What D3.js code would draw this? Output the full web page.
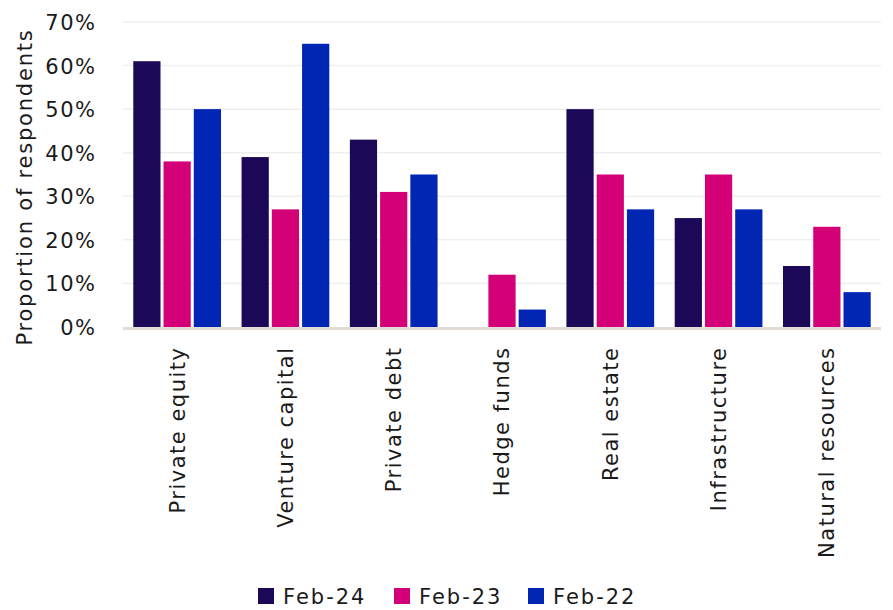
<!DOCTYPE html>
<html>
<head>
<meta charset="utf-8">
<script src="https://cdn.jsdelivr.net/npm/d3@7"></script>
<style>
  body { margin: 0; background: #fff; }
  svg text { font-family: "DejaVu Sans", sans-serif; fill: #1a1a1a; }
</style>
</head>
<body>
<script>
const categories = ["Private equity", "Venture capital", "Private debt", "Hedge funds", "Real estate", "Infrastructure", "Natural resources"];
const seriesNames = ["Feb-24", "Feb-23", "Feb-22"];
const feb24 = [0.61, 0.39, 0.43, 0, 0.50, 0.25, 0.14];
const feb23 = [0.38, 0.27, 0.31, 0.12, 0.35, 0.35, 0.23];
const feb22 = [0.50, 0.65, 0.35, 0.04, 0.27, 0.27, 0.08];
const yTicks = [0, 0.1, 0.2, 0.3, 0.4, 0.5, 0.6, 0.7];
const colors = ["#1b0958", "#d30078", "#0026b3"];

const w = 893, h = 610;
const plotLeft = 123, plotRight = 881, plotTop = 22, plotBottom = 327;

const seriesVals = [feb24, feb23, feb22];
const rows = categories.map((c, i) => ({
  name: c,
  vals: seriesNames.map((s, j) => ({ key: s, value: seriesVals[j][i] }))
}));

const svg = d3.select("body")
  .append("svg")
  .attr("width", w)
  .attr("height", h);

const x0 = d3.scaleBand()
  .domain(categories)
  .range([plotLeft, plotRight])
  .paddingInner(0.19)
  .paddingOuter(0.095);

const x1 = d3.scaleBand()
  .domain(seriesNames)
  .range([0, x0.bandwidth()])
  .paddingInner(0.1);

const y = d3.scaleLinear()
  .domain([0, 0.7])
  .range([plotBottom, plotTop]);

const color = d3.scaleOrdinal()
  .domain(seriesNames)
  .range(colors);

// gridlines
svg.append("g")
  .selectAll("line")
  .data(yTicks.slice(1))
  .join("line")
  .attr("x1", plotLeft)
  .attr("x2", plotRight)
  .attr("y1", d => y(d))
  .attr("y2", d => y(d))
  .attr("stroke", "#efefef")
  .attr("stroke-width", 1.5);

// y axis labels
const yAxis = svg.append("g")
  .attr("transform", `translate(${plotLeft - 26.5}, 0)`)
  .call(d3.axisLeft(y).tickValues(yTicks).tickFormat(d3.format(".0%")).tickSize(0).tickPadding(0));
yAxis.select(".domain").remove();
yAxis.selectAll("text")
  .style("font-size", "21px")
  .style("letter-spacing", "1.5px")
  .attr("dy", "0.36em");

svg.append("text")
  .attr("transform", `translate(25, 187) rotate(-90)`)
  .attr("text-anchor", "middle")
  .attr("dy", "0.35em")
  .style("font-size", "21px")
  .style("letter-spacing", "1.8px")
  .text("Proportion of respondents");

// bars
const groups = svg.append("g")
  .selectAll("g")
  .data(rows)
  .join("g")
  .attr("transform", d => `translate(${x0(d.name)}, 0)`);

groups.selectAll("rect")
  .data(d => d.vals)
  .join("rect")
  .attr("x", d => x1(d.key))
  .attr("y", d => y(d.value))
  .attr("width", x1.bandwidth())
  .attr("height", d => y(0) - y(d.value))
  .attr("fill", d => color(d.key));

// baseline
svg.append("line")
  .attr("x1", plotLeft)
  .attr("x2", plotRight)
  .attr("y1", plotBottom + 1.5)
  .attr("y2", plotBottom + 1.5)
  .attr("stroke", "#e2ddd8")
  .attr("stroke-width", 3);

// x labels
const xAxis = svg.append("g")
  .attr("transform", `translate(0, ${plotBottom + 19.5})`)
  .call(d3.axisBottom(x0).tickSize(0).tickPadding(0));
xAxis.select(".domain").remove();
xAxis.selectAll("text")
  .style("font-size", "21px")
  .style("letter-spacing", "1.5px")
  .attr("text-anchor", "end")
  .attr("dy", "0.35em")
  .attr("y", 0)
  .attr("transform", "rotate(-90)");

// legend
const legendX = [258, 394, 528];
const legend = svg.append("g")
  .selectAll("g")
  .data(seriesNames)
  .join("g")
  .attr("transform", (d, i) => `translate(${legendX[i]}, 588)`);

legend.append("rect")
  .attr("width", 16)
  .attr("height", 16)
  .attr("fill", d => color(d));

legend.append("text")
  .attr("x", 25)
  .attr("y", 8)
  .attr("dy", "0.36em")
  .style("font-size", "21px")
  .style("letter-spacing", "2px")
  .text(d => d);
</script>
</body>
</html>
